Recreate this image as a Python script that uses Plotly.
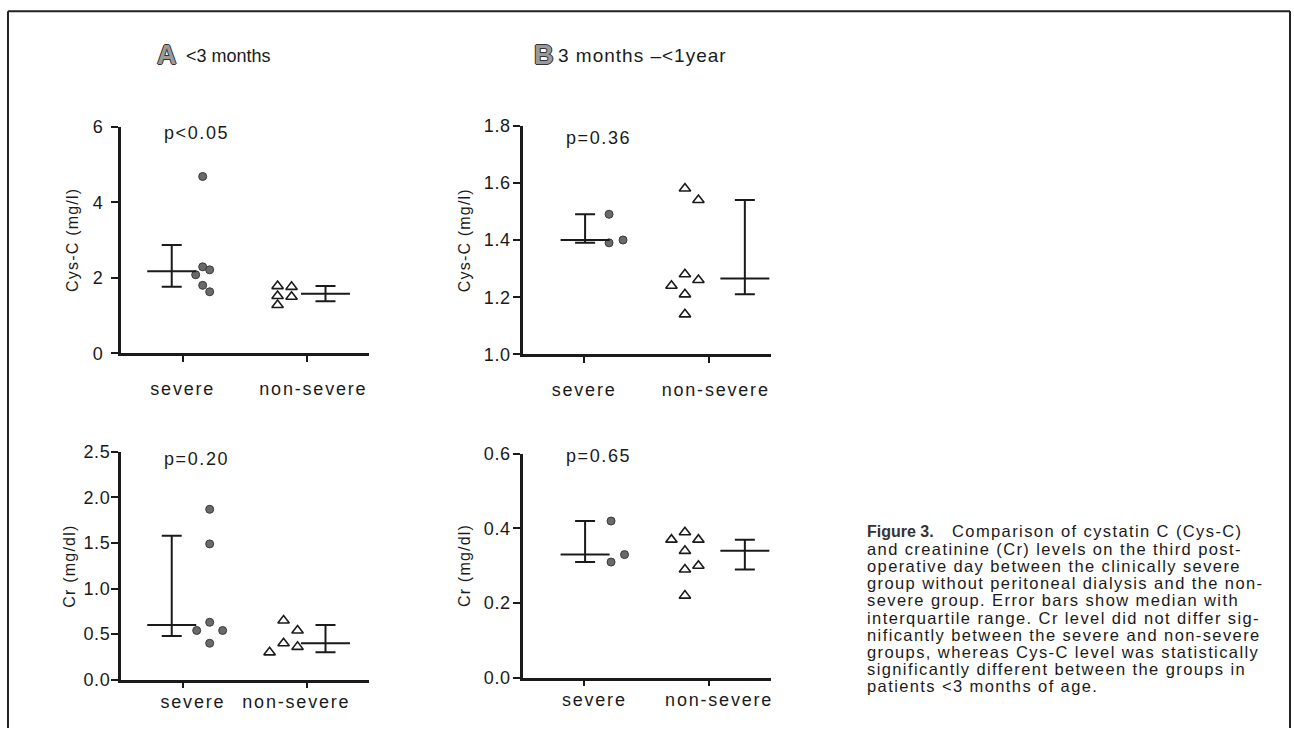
import plotly.graph_objects as go

W, H = 1294, 738

# ---------------- data ----------------
categories = ["severe", "non-severe"]

# A: <3 months, Cys-C (mg/l)
a_cys_severe = [4.68, 2.29, 2.21, 2.08, 1.80, 1.63]
a_cys_nonsevere = [1.78, 1.76, 1.52, 1.50, 1.28]
a_cys_bar_severe = [1.76, 2.17, 2.87]      # q1, median, q3
a_cys_bar_nonsevere = [1.38, 1.58, 1.78]
a_cys_p = "p<0.05"

# A: <3 months, Cr (mg/dl)
a_cr_severe = [1.87, 1.49, 0.63, 0.54, 0.54, 0.40]
a_cr_nonsevere = [0.65, 0.54, 0.40, 0.36, 0.30]
a_cr_bar_severe = [0.48, 0.60, 1.58]
a_cr_bar_nonsevere = [0.30, 0.40, 0.60]
a_cr_p = "p=0.20"

# B: 3 months - <1 year, Cys-C (mg/l)
b_cys_severe = [1.49, 1.39, 1.40]
b_cys_nonsevere = [1.58, 1.54, 1.28, 1.26, 1.24, 1.21, 1.14]
b_cys_bar_severe = [1.39, 1.40, 1.49]
b_cys_bar_nonsevere = [1.21, 1.265, 1.54]
b_cys_p = "p=0.36"

# B: 3 months - <1 year, Cr (mg/dl)
b_cr_severe = [0.42, 0.31, 0.33]
b_cr_nonsevere = [0.39, 0.37, 0.37, 0.34, 0.30, 0.29, 0.22]
b_cr_bar_severe = [0.31, 0.33, 0.42]
b_cr_bar_nonsevere = [0.29, 0.34, 0.37]
b_cr_p = "p=0.65"

y_tick_labels_a_cys = ["0", "2", "4", "6"]
y_tick_labels_b_cys = ["1.0", "1.2", "1.4", "1.6", "1.8"]
y_tick_labels_a_cr = ["0.0", "0.5", "1.0", "1.5", "2.0", "2.5"]
y_tick_labels_b_cr = ["0.0", "0.2", "0.4", "0.6"]

# ---------------- layout helpers ----------------
FONT = "Liberation Sans, Arial, Helvetica, sans-serif"
NARROW = "Liberation Sans Narrow, Arial Narrow, Liberation Sans, Arial, sans-serif"
INK = "#1a1a1a"
NB = "&nbsp;"

# the captured page comes out slightly squeezed vertically; compensate
V_OFF, V_SCALE = 8.8, 0.978


def spaced(t, ls=1.3, lpad=0, rpad=0):
    return '<span style="letter-spacing:%spx">%s%s%s</span>' % (
        ls, NB * lpad, t.replace("<", "&lt;"), NB * rpad)


def px_x(x):
    return x / W


def px_y(y):
    return 1 - ((y - V_OFF) / V_SCALE) / H


def swarm(vals, px_per_unit, thresh, spacing):
    order = [0, 1, -1, 2, -2, 3, -3]
    placed = []
    offs = []
    for v in vals:
        chosen = order[-1]
        for s in order:
            if all(not (ps == s and abs(pv - v) * px_per_unit < thresh) for ps, pv in placed):
                chosen = s
                break
        placed.append((chosen, v))
        offs.append(chosen * spacing)
    return offs


panels = [
    dict(x=(121, 370), y=(126, 354), ticks=(183, 307), yr=(0, 6),
         yt=y_tick_labels_a_cys, sev=a_cys_severe, non=a_cys_nonsevere,
         bs=a_cys_bar_severe, bn=a_cys_bar_nonsevere, p=a_cys_p, p_at=(162, 132),
         title="Cys-C (mg/l)", tx=73, lab_std=11, y_std=4, pads=((0, 0), (2, 0)),
         off=dict(sb=-11, sp=20, np=-29, nb=19), sp_sev=7, sp_non=14, th_sev=9, th_non=9),
    dict(x=(524, 772), y=(125, 355), ticks=(585, 710), yr=(1.0, 1.8),
         yt=y_tick_labels_b_cys, sev=b_cys_severe, non=b_cys_nonsevere,
         bs=b_cys_bar_severe, bn=b_cys_bar_nonsevere, p=b_cys_p, p_at=(565, 137),
         title="Cys-C (mg/l)", tx=466, lab_std=11, y_std=-1, pads=((0, 0), (2, 0)),
         off=dict(sb=1, sp=25, np=-24, nb=36), sp_sev=14, sp_non=13.5, th_sev=16, th_non=16),
    dict(x=(121, 370), y=(453, 682), ticks=(183, 307), yr=(0, 2.5),
         yt=y_tick_labels_a_cr, sev=a_cr_severe, non=a_cr_nonsevere,
         bs=a_cr_bar_severe, bn=a_cr_bar_nonsevere, p=a_cr_p, p_at=(162, 460),
         title="Cr (mg/dl)", tx=70, lab_std=-2, y_std=-3, pads=((3, 0), (0, 3)),
         off=dict(sb=-11, sp=27, np=-23, nb=19), sp_sev=13, sp_non=14, th_sev=9, th_non=14),
    dict(x=(524, 772), y=(455, 680), ticks=(585, 710), yr=(0, 0.6),
         yt=y_tick_labels_b_cr, sev=b_cr_severe, non=b_cr_nonsevere,
         bs=b_cr_bar_severe, bn=b_cr_bar_nonsevere, p=b_cr_p, p_at=(565, 457),
         title="Cr (mg/dl)", tx=466, lab_std=-2, y_std=-1, pads=((3, 0), (3, 0)),
         off=dict(sb=1, sp=27, np=-24, nb=36), sp_sev=13.5, sp_non=13.5, th_sev=16, th_non=16),
]

fig = go.Figure()
annotations = []
layout = {}

for i, pn in enumerate(panels):
    k = "" if i == 0 else str(i + 1)
    xa, ya = "x" + k, "y" + k
    x0, x1 = pn["x"]
    y0, y1 = pn["y"]
    t1, t2 = pn["ticks"]
    ppx = (t2 - t1)                      # px per category unit
    xr = [1 - (t1 - x0) / ppx, 2 + (x1 - t2) / ppx]
    ppy = (y1 - y0) / (pn["yr"][1] - pn["yr"][0])
    off = pn["off"]

    # severe points (grey filled circles)
    so = swarm(pn["sev"], ppy, pn["th_sev"], pn["sp_sev"])
    fig.add_trace(go.Scatter(
        x=[1 + (off["sp"] + o) / ppx for o in so], y=pn["sev"], mode="markers",
        marker=dict(symbol="circle", size=8, color="#6a6a6a",
                    line=dict(color="#3a3a3a", width=1)),
        xaxis=xa, yaxis=ya, showlegend=False, cliponaxis=False))
    # non-severe points (open triangles)
    no = swarm(pn["non"], ppy, pn["th_non"], pn["sp_non"])
    fig.add_trace(go.Scatter(
        x=[2 + (off["np"] + o) / ppx for o in no], y=pn["non"], mode="markers",
        marker=dict(symbol="triangle-up-open", size=10, color=INK,
                    line=dict(color=INK, width=1.6)),
        xaxis=xa, yaxis=ya, showlegend=False, cliponaxis=False))
    # median with interquartile range
    for cat, bar, o in ((1, pn["bs"], off["sb"]), (2, pn["bn"], off["nb"])):
        q1, med, q3 = bar
        fig.add_trace(go.Scatter(
            x=[cat + o / ppx], y=[med], mode="markers",
            marker=dict(symbol="line-ew-open", size=35, color=INK,
                        line=dict(color=INK, width=2)),
            error_y=dict(type="data", symmetric=False, array=[q3 - med],
                         arrayminus=[med - q1], width=10, thickness=2, color=INK),
            xaxis=xa, yaxis=ya, showlegend=False, cliponaxis=False))

    nt = len(pn["yt"])
    step = (pn["yr"][1] - pn["yr"][0]) / (nt - 1)
    layout["xaxis" + k] = dict(
        domain=[px_x(x0), px_x(x1)], range=xr, anchor=ya,
        tickmode="array", tickvals=[1, 2],
        ticktext=[spaced(c, 1.8, *pd) for c, pd in zip(categories, pn["pads"])],
        showline=True, linecolor=INK, linewidth=2.5, ticks="outside",
        ticklen=6, tickwidth=2, tickcolor=INK, showgrid=False, zeroline=False,
        tickfont=dict(family=FONT, size=18, color=INK), ticklabelstandoff=pn["lab_std"])
    layout["yaxis" + k] = dict(
        domain=[px_y(y1), px_y(y0)], range=list(pn["yr"]), anchor=xa,
        tickmode="array", tickvals=[pn["yr"][0] + j * step for j in range(nt)],
        ticktext=[spaced(t, 0.6) for t in pn["yt"]],
        showline=True, linecolor=INK, linewidth=2.8, ticks="outside",
        ticklen=7, tickwidth=2, tickcolor=INK, showgrid=False, zeroline=False,
        tickfont=dict(family=FONT, size=18, color=INK), ticklabelstandoff=pn["y_std"])

    annotations.append(dict(
        x=px_x(pn["p_at"][0]), y=px_y(pn["p_at"][1]), xref="paper", yref="paper",
        text=spaced(pn["p"], 1.6), showarrow=False, xanchor="left", yanchor="middle",
        font=dict(family=FONT, size=18, color=INK)))
    annotations.append(dict(
        x=px_x(pn["tx"]), y=px_y((y0 + y1) / 2), xref="paper", yref="paper",
        text=spaced(pn["title"], 1.2), showarrow=False, textangle=-90,
        xanchor="center", yanchor="middle",
        font=dict(family=FONT, size=16, color=INK)))

# panel titles
for letter, lx, label, tx, fs, ls in (("A", 155, "<3 months", 184, 18, 0.0),
                                      ("B", 533, "3 months \u2013<1year", 557, 19, 1.0)):
    annotations.append(dict(
        x=px_x(lx), y=px_y(54), xref="paper", yref="paper", text="<b>" + letter + "</b>",
        showarrow=False, xanchor="left", yanchor="middle",
        font=dict(family=FONT, size=27, color="#9a9a9a",
                  shadow="1px 0 0 #333, -1px 0 0 #333, 0 1px 0 #333, 0 -1px 0 #333")))
    annotations.append(dict(
        x=px_x(tx), y=px_y(55), xref="paper", yref="paper", text=spaced(label, ls),
        showarrow=False, xanchor="left", yanchor="middle",
        font=dict(family=NARROW, size=fs, color=INK)))

# caption
caption_lines = [
    "and creatinine (Cr) levels on the third post-",
    "operative day between the clinically severe",
    "group without peritoneal dialysis and the non-",
    "severe group. Error bars show median with",
    "interquartile range. Cr level did not differ sig-",
    "nificantly between the severe and non-severe",
    "groups, whereas Cys-C level was statistically",
    "significantly different between the groups in",
    "patients <3 months of age.",
]
annotations.append(dict(
    x=px_x(866), y=px_y(533), xref="paper", yref="paper", text="<b>Figure 3.</b>",
    showarrow=False, xanchor="left", yanchor="middle",
    font=dict(family=NARROW, size=16, color="#333")))
annotations.append(dict(
    x=px_x(951), y=px_y(533), xref="paper", yref="paper",
    text=spaced("Comparison of cystatin C (Cys-C)", 1.4),
    showarrow=False, xanchor="left", yanchor="middle",
    font=dict(family=FONT, size=16.5, color=INK)))
for j, line in enumerate(caption_lines):
    annotations.append(dict(
        x=px_x(866), y=px_y(533 + (j + 1) * 17.3), xref="paper", yref="paper",
        text=spaced(line, 1.4), showarrow=False, xanchor="left", yanchor="middle",
        font=dict(family=FONT, size=16.5, color=INK)))

shapes = [
    dict(type="line", xref="paper", yref="paper", x0=px_x(8), x1=px_x(1292),
         y0=px_y(10), y1=px_y(10), line=dict(color="#222", width=2)),
    dict(type="line", xref="paper", yref="paper", x0=px_x(8), x1=px_x(8),
         y0=px_y(10), y1=0, line=dict(color="#222", width=2)),
    dict(type="line", xref="paper", yref="paper", x0=px_x(1292), x1=px_x(1292),
         y0=px_y(10), y1=0, line=dict(color="#222", width=2)),
]

fig.update_layout(
    width=W, height=H, autosize=False,
    margin=dict(l=0, r=0, t=0, b=0),
    paper_bgcolor="white", plot_bgcolor="white",
    annotations=annotations, shapes=shapes, showlegend=False,
    **layout)

fig.write_html("out.html")
